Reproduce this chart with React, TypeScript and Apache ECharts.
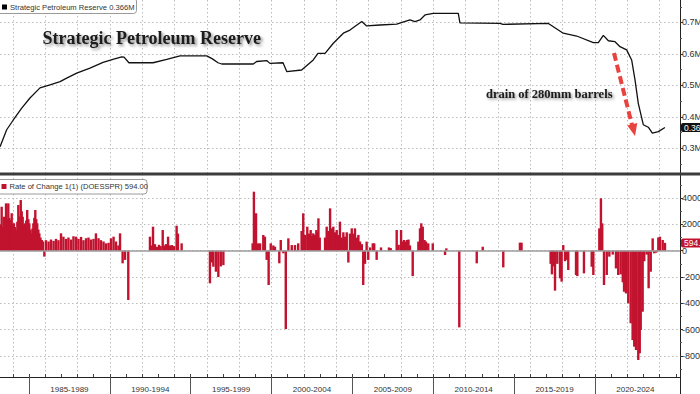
import React, { useEffect, useRef } from "react";
import * as echarts from "echarts";

// ---- Strategic Petroleum Reserve (as labelled on the source terminal, "M")
const reserveDates = [
  1983.21, 1983.62, 1984.03, 1984.55, 1985.06, 1985.68, 1986.30, 1986.92, 1987.33, 1987.95,
  1988.36, 1988.77, 1989.58, 1990.19, 1990.73, 1990.88, 1991.18, 1992.67, 1993.52, 1994.34,
  1995.99, 1996.32, 1996.69, 1996.92, 1998.87, 1999.08, 1999.70, 1999.90, 2000.71, 2000.94,
  2001.86, 2002.58, 2002.87, 2003.31, 2003.82, 2004.44, 2004.85, 2005.58, 2005.88, 2006.71,
  2007.74, 2008.56, 2008.87, 2009.18, 2009.49, 2010.00, 2011.55, 2011.65, 2014.13, 2014.31,
  2017.12, 2018.04, 2018.87, 2019.90, 2020.21, 2020.52, 2020.83, 2021.24, 2021.55, 2021.96,
  2022.27, 2022.48, 2022.68, 2022.99, 2023.30, 2023.55, 2023.92, 2024.33,
];
const reserveValues = [
  0.305, 0.359, 0.390, 0.428, 0.460, 0.492, 0.502, 0.512, 0.523, 0.539,
  0.547, 0.555, 0.573, 0.583, 0.591, 0.590, 0.572, 0.572, 0.583, 0.594,
  0.594, 0.585, 0.572, 0.568, 0.568, 0.576, 0.579, 0.570, 0.572, 0.544,
  0.549, 0.581, 0.602, 0.602, 0.634, 0.666, 0.676, 0.703, 0.689, 0.692,
  0.695, 0.708, 0.703, 0.708, 0.724, 0.729, 0.729, 0.699, 0.697, 0.694,
  0.697, 0.666, 0.657, 0.636, 0.636, 0.659, 0.642, 0.639, 0.623, 0.613,
  0.581, 0.517, 0.443, 0.375, 0.367, 0.348, 0.353, 0.366,
];

// ---- Rate of Change 1(1) (DOESSPR)
const changeDates = [
  1983.24, 1983.31, 1983.39, 1983.45, 1983.52, 1983.58, 1983.64, 1983.72, 1983.78, 1983.83,
  1983.89, 1983.93, 1984.01, 1984.07, 1984.13, 1984.20, 1984.28, 1984.34, 1984.41, 1984.49,
  1984.55, 1984.61, 1984.69, 1984.75, 1984.83, 1984.89, 1984.96, 1985.02, 1985.09, 1985.17,
  1985.22, 1985.27, 1985.33, 1985.39, 1985.45, 1985.51, 1985.58, 1985.64, 1985.71, 1985.79,
  1985.87, 1985.95, 1986.05, 1986.21, 1986.36, 1986.52, 1986.67, 1986.82, 1986.98, 1987.13,
  1987.29, 1987.44, 1987.60, 1987.75, 1987.91, 1988.06, 1988.22, 1988.37, 1988.53, 1988.68,
  1988.83, 1988.99, 1989.14, 1989.30, 1989.45, 1989.61, 1989.76, 1989.92, 1990.07, 1990.23,
  1990.38, 1990.53, 1990.63, 1990.79, 1990.94, 1991.14, 1992.48, 1992.58, 1992.67, 1992.79,
  1992.92, 1993.04, 1993.14, 1993.27, 1993.38, 1993.47, 1993.60, 1993.72, 1993.84, 1993.97,
  1994.13, 1994.21, 1994.44, 1996.19, 1996.32, 1996.40, 1996.56, 1996.71, 1996.86, 1997.02,
  1998.83, 1998.91, 1999.04, 1999.16, 1999.29, 1999.49, 1999.59, 1999.70, 1999.82, 1999.95,
  2000.11, 2000.21, 2000.48, 2000.57, 2000.73, 2000.88, 2001.04, 2001.25, 2001.45, 2001.65,
  2001.86, 2001.96, 2002.07, 2002.21, 2002.32, 2002.42, 2002.50, 2002.58, 2002.69, 2002.77,
  2002.84, 2002.90, 2002.98, 2003.31, 2003.41, 2003.51, 2003.62, 2003.72, 2003.82, 2003.92,
  2004.03, 2004.13, 2004.23, 2004.34, 2004.44, 2004.54, 2004.65, 2004.75, 2004.85, 2004.96,
  2005.06, 2005.16, 2005.27, 2005.37, 2005.47, 2005.58, 2005.67, 2005.78, 2005.88, 2005.98,
  2006.09, 2006.26, 2006.35, 2006.50, 2006.77, 2007.26, 2007.37, 2007.74, 2007.86, 2008.01,
  2008.10, 2008.19, 2008.28, 2008.38, 2008.47, 2008.56, 2008.73, 2009.08, 2009.18, 2009.26,
  2009.35, 2009.46, 2009.55, 2009.69, 2009.97, 2010.73, 2010.81, 2011.61, 2012.69, 2013.06,
  2014.33, 2015.36, 2015.46, 2017.26, 2017.34, 2017.42, 2017.53, 2017.67, 2017.84, 2017.94,
  2018.04, 2018.15, 2018.25, 2018.35, 2018.83, 2018.91, 2019.32, 2019.80, 2019.90, 2020.27,
  2020.37, 2020.45, 2020.56, 2020.73, 2020.89, 2021.10, 2021.30, 2021.44, 2021.59, 2021.72,
  2021.80, 2021.92, 2022.06, 2022.21, 2022.33, 2022.43, 2022.54, 2022.68, 2022.77, 2022.83,
  2022.95, 2023.05, 2023.20, 2023.32, 2023.45, 2023.57, 2023.67, 2023.79, 2023.92, 2024.02,
  2024.19, 2024.33,
];
const changeValues = [
  2000, 3344, 1800, 2584, 2200, 3600, 2400, 3600, 2500, 2333,
  1900, 2843, 2000, 2082, 1800, 1573, 2200, 3473, 2600, 3853,
  3000, 2584, 2000, 2082, 2300, 3093, 2400, 2082, 1600, 1320,
  1700, 2082, 2500, 3093, 2400, 2082, 1600, 1320, 1000, 813,
  700, -450, 800, 700, 850, 750, 900, 800, 1320, 1066,
  900, 1000, 850, 1100, 1066, 900, 1050, 800, 950, 1000,
  850, 900, 1320, 950, 800, 700, 560, 600, 940, 1066,
  700, 400, 1320, -960, -700, -3750, 1066, 400, 1827, 500,
  300, 450, 350, 1573, 400, 500, 1066, 400, 430, 350,
  1900, 1300, 560, -2480, -900, -1220, -1600, -2000, -1200, -1100,
  560, 4487, 2843, 560, 560, 1193, 1066, -700, -2610, 560,
  400, 300, -960, 813, -200, -5960, 940, 430, 430, 560,
  1500, 2843, 1200, 1827, 1300, 1573, 1100, 1320, 1200, 1573,
  1400, 2463, 1000, 1000, 1827, 1500, 3220, 1700, 1827, 1400,
  1573, 1200, 2208, 1000, 1400, 1066, 1400, -900, 1300, 1700,
  1300, 1700, 1000, 1200, 700, 500, -2610, -1000, 690, -700,
  250, 560, 560, -700, 250, 250, 200, 1573, 450, 1573,
  700, 813, 700, 813, 850, 400, -1930, 690, 1700, 2082,
  1827, 813, 700, 560, 560, -330, 180, -5830, -960, 300,
  -1270, 610, 610, -1000, -1800, -1200, -3040, -1000, -2100, -2355,
  430, -800, -700, -1470, -1850, -1930, -1725, -1220, -1850, 1700,
  3985, 2082, -2610, -1850, -450, -300, -1350, -1850, -1800, -2400,
  -3120, -3250, -4000, -5520, -6800, -7300, -7550, -8310, -7800, -6030,
  -4640, -800, -300, -2860, -1600, 940, -200, -150, 1010, 1066,
  813, 594,
];

// ---- ticks / labels
const reserveTicks = [0.3, 0.4, 0.5, 0.6, 0.7];
const reserveMinorTicks = [0.25, 0.35, 0.45, 0.55, 0.65, 0.75];
const changeTicks = [-8000, -6000, -4000, -2000, 0, 2000, 4000];
const changeMinorTicks = [-9000, -7000, -5000, -3000, -1000, 1000, 3000, 5000];
const gridYears = [
  1984, 1986, 1988, 1990, 1992, 1994, 1996, 1998, 2000, 2002, 2004,
  2006, 2008, 2010, 2012, 2014, 2016, 2018, 2020, 2022, 2024,
];
const yearTicks = [
  1984, 1985, 1986, 1987, 1988, 1989, 1990, 1991, 1992, 1993, 1994, 1995, 1996, 1997,
  1998, 1999, 2000, 2001, 2002, 2003, 2004, 2005, 2006, 2007, 2008, 2009, 2010, 2011,
  2012, 2013, 2014, 2015, 2016, 2017, 2018, 2019, 2020, 2021, 2022, 2023, 2024, 2025,
];
const periodStarts = [1985, 1990, 1995, 2000, 2005, 2010, 2015, 2020];
const periodLabels = [
  "1985-1989", "1990-1994", "1995-1999", "2000-2004",
  "2005-2009", "2010-2014", "2015-2019", "2020-2024",
];
const latestReserve = 0.366;
const latestChange = 594.0;

const reserveTitle = "Strategic Petroleum Reserve";
const reserveLegend = "Strategic Petroleum Reserve 0.366M";
const changeLegend = "Rate of Change 1(1) (DOESSPR) 594.00";
const annotation = "drain of 280mm barrels";

// ---- layout constants
const X_MIN = 1983.207;
const X_MAX = 2025.26;
const RES_MIN = 0.2183;
const RES_MAX = 0.7715;
const CHG_MIN = -9605;
const CHG_MAX = 5833;

const LINE = "#111111";
const BAR = "#c1132f";
const SANS = "'Liberation Sans', Arial, sans-serif";
const SERIF = "'Liberation Serif', 'Times New Roman', serif";

const dotted = {
  show: true,
  lineStyle: { color: "#bcbcbc", width: 1, type: [1.5, 2.5] as any },
};
const labelFont = { fontFamily: SANS, fontSize: 9, color: "#333" };

function serifText(text: string, x: number, y: number, size: number, off: number): any {
  return {
    type: "text",
    x,
    y,
    style: {
      text,
      fontFamily: SERIF,
      fontWeight: "bold",
      fontSize: size,
      fill: "#1a1a1a",
      align: "left",
      verticalAlign: "middle",
      textShadowColor: "rgba(0,0,0,0.45)",
      textShadowBlur: 3,
      textShadowOffsetX: off,
      textShadowOffsetY: off,
    },
    z: 101,
  };
}

function buildOption(): any {
  const periodMids = periodStarts.map((s) => s + 2.5);
  const hiddenX = (gridIndex: number) => ({
    gridIndex,
    type: "value",
    min: X_MIN,
    max: X_MAX,
    position: "bottom",
    axisLine: { show: false, onZero: false },
    axisTick: { show: false, customValues: gridYears },
    axisLabel: { show: false },
    splitLine: dotted,
  });
  const yBase = (gridIndex: number, min: number, max: number) => ({
    gridIndex,
    type: "value",
    position: "right",
    min,
    max,
  });

  return {
    animation: false,
    backgroundColor: "#ffffff",
    grid: [
      { left: 0, right: 20, top: 0, height: 174, containLabel: false, outerBoundsMode: "none" },
      { left: 0, right: 20, top: 174, height: 203, containLabel: false, outerBoundsMode: "none" },
    ],
    xAxis: [
      hiddenX(0),
      hiddenX(1),
      {
        gridIndex: 1,
        type: "value",
        min: X_MIN,
        max: X_MAX,
        position: "bottom",
        axisLine: { show: true, onZero: false, lineStyle: { color: "#222", width: 1 } },
        axisTick: { show: true, inside: true, length: 3, customValues: yearTicks, lineStyle: { color: "#444" } },
        axisLabel: { show: false },
        splitLine: { show: false },
      },
      {
        gridIndex: 1,
        type: "value",
        min: X_MIN,
        max: X_MAX,
        position: "bottom",
        axisLine: { show: false, onZero: false },
        axisTick: { show: true, length: 17, customValues: periodStarts, lineStyle: { color: "#555" } },
        axisLabel: {
          show: true,
          customValues: periodMids,
          margin: 8,
          ...labelFont,
          fontSize: 8,
          formatter: (v: number) => periodLabels[periodMids.indexOf(v)] ?? "",
        },
        splitLine: { show: false },
      },
    ],
    yAxis: [
      {
        ...yBase(0, RES_MIN, RES_MAX),
        axisLine: { show: true, onZero: false, lineStyle: { color: "#222", width: 1 } },
        axisTick: { show: true, length: 3, customValues: reserveTicks, lineStyle: { color: "#333" } },
        axisLabel: { show: true, customValues: reserveTicks, margin: 2, ...labelFont, formatter: (v: number) => v.toFixed(1) + "M" },
        splitLine: dotted,
      },
      {
        ...yBase(0, RES_MIN, RES_MAX),
        axisLine: { show: false, onZero: false },
        axisTick: { show: true, length: 2, customValues: reserveMinorTicks, lineStyle: { color: "#555" } },
        axisLabel: { show: false },
        splitLine: { show: false },
      },
      {
        ...yBase(0, RES_MIN, RES_MAX),
        axisLine: { show: false, onZero: false },
        axisTick: { show: false },
        axisLabel: {
          show: true,
          customValues: [latestReserve],
          margin: 1,
          fontFamily: SANS,
          fontSize: 8.5,
          color: "#fff",
          backgroundColor: "#111",
          borderRadius: 2,
          padding: [0, 2, 0, 3],
          formatter: () => latestReserve.toFixed(3) + "M",
        },
        splitLine: { show: false },
      },
      {
        ...yBase(1, CHG_MIN, CHG_MAX),
        axisLine: { show: true, onZero: false, lineStyle: { color: "#222", width: 1 } },
        axisTick: { show: true, length: 3, customValues: changeTicks, lineStyle: { color: "#333" } },
        axisLabel: { show: true, customValues: changeTicks, margin: 2, ...labelFont, formatter: (v: number) => String(v) },
        splitLine: dotted,
      },
      {
        ...yBase(1, CHG_MIN, CHG_MAX),
        axisLine: { show: false, onZero: false },
        axisTick: { show: true, length: 2, customValues: changeMinorTicks, lineStyle: { color: "#555" } },
        axisLabel: { show: false },
        splitLine: { show: false },
      },
      {
        ...yBase(1, CHG_MIN, CHG_MAX),
        axisLine: { show: false, onZero: false },
        axisTick: { show: false },
        axisLabel: {
          show: true,
          customValues: [latestChange],
          margin: 1,
          fontFamily: SANS,
          fontSize: 8.5,
          color: "#fff",
          backgroundColor: BAR,
          borderRadius: 2,
          padding: [0, 2, 0, 3],
          formatter: () => latestChange.toFixed(2),
        },
        splitLine: { show: false },
      },
    ],
    series: [
      {
        type: "line",
        xAxisIndex: 0,
        yAxisIndex: 0,
        data: reserveDates.map((d, i) => [d, reserveValues[i]]),
        symbol: "none",
        showSymbol: false,
        lineStyle: { color: LINE, width: 1.3 },
        silent: true,
        z: 5,
      },
      {
        type: "bar",
        xAxisIndex: 1,
        yAxisIndex: 3,
        data: changeDates.map((d, i) => [d, changeValues[i]]),
        barWidth: 2.4,
        itemStyle: { color: BAR },
        silent: true,
        markLine: {
          silent: true,
          symbol: ["none", "none"],
          label: { show: false },
          lineStyle: { color: "#9c9c9c", type: "solid", width: 1.5 },
          data: [{ yAxis: 0 }],
        },
      },
    ],
    graphic: [
      {
        type: "line",
        shape: { x1: 0, y1: 174, x2: 700, y2: 174 },
        style: { stroke: "#3c3c3c", lineWidth: 3 },
        z: 100,
      },
      {
        type: "line",
        shape: { x1: 680.5, y1: 377, x2: 680.5, y2: 394 },
        style: { stroke: "#222", lineWidth: 1 },
        z: 100,
      },
      // top legend
      {
        type: "rect",
        shape: { x: -3, y: -2, width: 139.5, height: 15.5, r: 3 },
        style: { fill: "#fff", stroke: "#9a9a9a", lineWidth: 1 },
        z: 100,
      },
      {
        type: "rect",
        shape: { x: 2, y: 4.5, width: 5, height: 5 },
        style: { fill: "#000" },
        z: 101,
      },
      {
        type: "text",
        x: 10,
        y: 7.3,
        style: { text: reserveLegend, fontFamily: SANS, fontSize: 7.6, fill: "#333", align: "left", verticalAlign: "middle" },
        z: 101,
      },
      // bottom legend
      {
        type: "rect",
        shape: { x: -3, y: 179.5, width: 150, height: 14.5, r: 3 },
        style: { fill: "#fff", stroke: "#9a9a9a", lineWidth: 1 },
        z: 100,
      },
      {
        type: "rect",
        shape: { x: 1.5, y: 184, width: 5, height: 5 },
        style: { fill: BAR },
        z: 101,
      },
      {
        type: "text",
        x: 9.5,
        y: 186.7,
        style: { text: changeLegend, fontFamily: SANS, fontSize: 7.6, fill: "#333", align: "left", verticalAlign: "middle" },
        z: 101,
      },
      // title and annotation
      serifText(reserveTitle, 42.5, 37.5, 18, 2),
      serifText(annotation, 486, 93.5, 12.5, 1.5),
      {
        type: "line",
        shape: { x1: 614, y1: 53, x2: 632, y2: 125 },
        style: { stroke: "#e8433e", lineWidth: 4, lineDash: [8, 4] },
        z: 101,
      },
      {
        type: "polygon",
        shape: { points: [[627.3, 125.5], [637.3, 123], [635, 136]] },
        style: { fill: "#e8433e" },
        z: 101,
      },
    ],
  };
}

export default function App() {
  const ref = useRef<HTMLDivElement>(null);
  useEffect(() => {
    if (!ref.current) return;
    const chart = echarts.init(ref.current, null, { renderer: "svg" });
    chart.setOption(buildOption());
    return () => chart.dispose();
  }, []);
  return (
    <div
      ref={ref}
      style={{ position: "fixed", left: 0, top: 0, width: 700, height: 394, background: "#fff" }}
    />
  );
}
